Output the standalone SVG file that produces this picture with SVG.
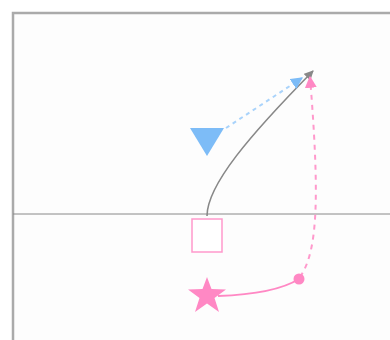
<svg xmlns="http://www.w3.org/2000/svg" width="390" height="340" viewBox="0 0 390 340">
<style>
.frame{fill:#fdfdfd;stroke:#aaaaaa;stroke-width:2.5}
.axis{stroke:#888888;stroke-width:1;fill:none}
.pink{fill:#ff88c4}
.blue{fill:#7dbcf7}
</style>
<defs>
<marker id="ag" viewBox="0 0 10 10" refX="9" refY="5" markerWidth="6" markerHeight="6" orient="auto" markerUnits="strokeWidth"><path d="M0,0 L10,5 L0,10 z" fill="#888888"/></marker>
<marker id="ab" viewBox="0 0 10 10" refX="9" refY="5" markerWidth="6" markerHeight="6" orient="auto" markerUnits="strokeWidth"><path d="M0,0 L10,5 L0,10 z" fill="#7dbcf7"/></marker>
<marker id="ap" viewBox="0 0 10 10" refX="9" refY="5" markerWidth="6" markerHeight="6" orient="auto" markerUnits="strokeWidth"><path d="M0,0 L10,5 L0,10 z" fill="#ff88c4"/></marker>
</defs>
<rect x="0" y="0" width="390" height="340" fill="#ffffff"/>
<rect class="frame" x="13" y="13" width="400" height="350"/>
<line class="axis" x1="13" y1="214" x2="390" y2="214"/>
<g id="connectors" fill="none">
<path d="M207,216 C207,185 250,135 313,71" stroke="#888888" stroke-width="1.6" marker-end="url(#ag)"/>
<path d="M226,128 L302,78" stroke="#a9d3fb" stroke-width="2" stroke-dasharray="4,4" marker-end="url(#ab)"/>
<path d="M300,277 C319,250 319,190 310,77" stroke="#ff99cc" stroke-width="2" stroke-dasharray="5,5" marker-end="url(#ap)"/>
<path d="M218,296 Q275,294 299,279" stroke="#ff88c4" stroke-width="2"/>
</g>
<g id="triangle"><path class="blue" d="M190,128 L224,128 L207,156 z"/></g>
<g id="square"><rect x="192" y="219" width="30" height="33" fill="#ffffff" stroke="#ff99cc" stroke-width="1.5"/></g>
<g id="star"><path class="pink" d="M207,277 L211.5,289 L226,289.5 L214.5,298 L219,312 L207,303.5 L195,312 L199.5,298 L188,289.5 L202.5,289 z"/></g>
<g id="dot"><circle class="pink" cx="299" cy="279" r="5.5"/></g>
</svg>
